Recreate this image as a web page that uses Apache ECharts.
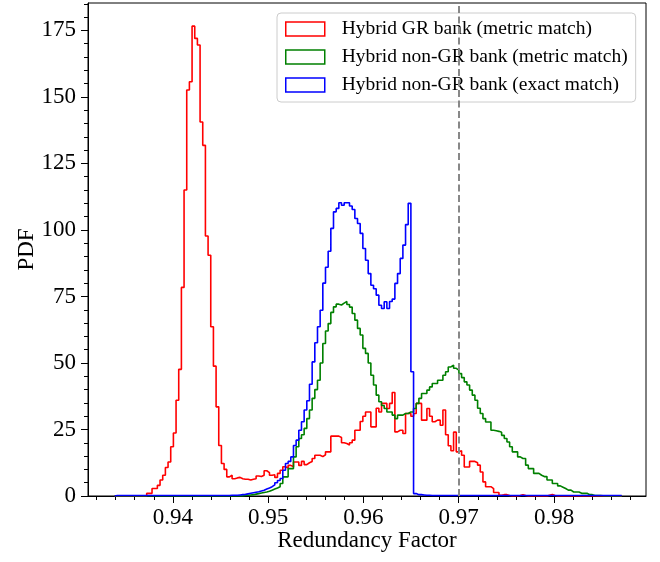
<!DOCTYPE html>
<html><head><meta charset="utf-8">
<script src="https://cdn.jsdelivr.net/npm/echarts@6/dist/echarts.min.js"></script>
<style>html,body{margin:0;padding:0;background:#fff}#c{width:660px;height:562px}</style>
</head><body><div id="c"></div>
<script>
// ---- data ----
const binStart = 0.9339;
const binWidth = 0.00028;
const seriesNames = ['Hybrid GR bank (metric match)', 'Hybrid non-GR bank (metric match)', 'Hybrid non-GR bank (exact match)'];
const redVals = [
0,0,0,0,0,0,0,0,0,0,
0,0,1,1,2.8,2.8,4,6,7.8,10.7,
12.8,18.5,23.7,36,47.6,78.4,115,152.6,155.7,176.6,
172,169.5,140.6,131.8,97.7,90.5,63.6,48.8,33.5,19,
12.2,10,7.2,7.8,6.5,6.8,7,6.5,6.3,6.3,
6,6.3,6.5,7.5,7.3,7.8,9.5,8.8,7.8,8,
7,8.5,9.7,11,10.5,11.5,11,12.8,12.8,11.5,
13,11.8,12.5,13,14.1,15.3,15.3,14.8,15.5,16.6,
16.6,22.5,22.5,22.5,22,20,19.7,19.2,20,21,
24.7,24.7,28,30,31.6,31.6,26,26,33,31.6,
34.8,34.8,32.9,34.8,38.9,24.1,24.7,24.7,23.5,31,
31,30,31,34.8,34.8,28.5,28.5,32.9,30,27.9,
28.5,28.5,26.6,32.3,23,18.9,17,24,16.6,17,
15.3,10.9,10.9,13,13,12.5,11.6,9,5.3,3.5,
3.5,2.8,1.3,1.3,0.3,0.5,0.5,0.2,0,0,
0,0.2,0.5,0.2,0,0,0,0,0,0,
0,0,0.3,0.6,0.2,0,0,0,0,0,
0,0,0,0,0,0,0,0,0,0,
0,0,0,0,0,0,0,0,0,0
];
const greenVals = [
0,0,0,0,0,0,0,0,0,0,
0,0,0,0,0,0,0,0,0,0,
0,0,0,0,0,0,0,0,0,0,
0,0,0,0,0,0,0,0,0,0,
0,0,0,0,0,0,0,0,0.2,0.3,
0.4,0.5,0.7,0.9,1.1,1.3,1.5,1.8,2.2,2.6,
3,3.5,4.7,7.2,7.2,10.3,10.3,14.7,18.5,21.6,
23,25.4,29.1,32.3,36.7,40,43.5,50,57.3,62,
64.8,69,71.1,72.1,71.8,72.5,73.1,72,71,68.6,
66.1,63,60.5,55.5,53.6,50,45.4,41.7,37.9,35.4,
34,32.9,31.6,31.6,30.4,29.1,30.4,30.4,31,31,
31.6,31.6,32.9,34.8,36.7,38.5,38.5,39.8,41,42.3,
42.3,43.5,43.5,45.4,46.7,48.5,49.2,48,47.3,46,
44.5,42.9,41.7,39.8,37.9,36,33,31,29.1,27.8,
27.8,24.7,24.5,24.3,24,22.8,21.6,20.3,18.5,16.6,
16.6,14.7,14.1,14.1,11.6,10.3,10.3,8.5,8.5,7.8,
7.3,7.3,6,6,4.7,4.7,3.8,3.3,2.8,2.2,
2.2,1.5,1.5,1.5,1,1,1,0.5,0.5,0.2,
0.2,0.2,0.1,0,0,0,0,0,0,0
];
const blueVals = [
0.2,0.2,0.2,0.2,0.2,0.2,0.2,0.2,0.2,0.2,
0.2,0.2,0.2,0.2,0.2,0.2,0.2,0.2,0.2,0.2,
0.2,0.2,0.2,0.2,0.2,0.2,0.2,0.2,0.2,0.2,
0.2,0.2,0.2,0.2,0.2,0.2,0.2,0.2,0.2,0.2,
0.2,0.2,0.2,0.3,0.3,0.3,0.4,0.5,0.6,0.8,
1,1.2,1.4,1.6,1.9,2.2,2.6,3,3.5,4.2,
5,5.8,6.6,9.7,12.2,13,14.7,19,21,24.7,
27.9,32.3,35.8,42,50.4,57.6,63.6,69.8,80,86,
92,100.6,106.8,108.1,110.2,109.3,110.2,110.2,109,107.7,
104.3,102.4,98.7,93,88.6,83.6,79.2,77.9,75.5,71.7,
70.5,73,70.5,73.1,74,79.9,83.6,89.3,94.3,102,
110,46.7,0.9,0.5,0.5,0.4,0.3,0.3,0.2,0.2,
0.2,0.2,0.2,0.2,0.2,0.2,0.2,0.2,0.2,0.2,
0.2,0.2,0.2,0.2,0.2,0.2,0.2,0.2,0.2,0.2,
0.2,0.2,0.2,0.2,0.2,0.2,0.2,0.2,0.2,0.2,
0.2,0.2,0.2,0.2,0.2,0.2,0.2,0.2,0.2,0.2,
0.2,0.2,0.2,0.2,0.2,0.2,0.2,0.2,0.2,0.2,
0.2,0.2,0.2,0.2,0.2,0.2,0.2,0.2,0.2,0.2,
0.2,0.2,0.2,0.2,0.2,0.2,0.2,0.2,0.2,0.2
];
const xMajorTicks = [0.94, 0.95, 0.96, 0.97, 0.98];
const xMinorTicks = [0.932,0.934,0.936,0.938,0.942,0.944,0.946,0.948,0.952,0.954,0.956,0.958,0.962,0.964,0.966,0.968,0.972,0.974,0.976,0.978,0.982,0.984,0.986,0.988];
const yMajorTicks = [0, 25, 50, 75, 100, 125, 150, 175];
const yMinorTicks = [5,10,15,20,30,35,40,45,55,60,65,70,80,85,90,95,105,110,115,120,130,135,140,145,155,160,165,170,180,185];
const refLineX = 0.97;
const xRange = [0.9311, 0.98965];
const yRange = [0, 185.3];

// ---- chart ----
function stepPoints(vals) {
  const pts = [[binStart, 0]];
  for (let i = 0; i < vals.length; i++) pts.push([binStart + i * binWidth, vals[i]]);
  pts.push([binStart + vals.length * binWidth, 0]);
  return pts;
}
const FONT = 'Liberation Serif';
const colors = ['#ff0000', '#008000', '#0000ff'];
const chart = echarts.init(document.getElementById('c'), null, {renderer: 'canvas'});
const axisCommon = {
  type: 'value', splitLine: {show: false}
};
chart.setOption({
  animation: false,
  backgroundColor: '#fff',
  grid: {left: 88, right: 14, top: 3, bottom: 66, show: true, borderColor: '#000', borderWidth: 1, backgroundColor: 'transparent', outerBoundsMode: 'none'},
  xAxis: [
    Object.assign({}, axisCommon, {
      min: xRange[0], max: xRange[1], position: 'bottom',
      name: 'Redundancy Factor', nameLocation: 'middle', nameGap: 33, nameMoveOverlap: false,
      nameTextStyle: {fontFamily: FONT, fontSize: 23, color: '#000'},
      axisLine: {show: true, lineStyle: {color: '#000', width: 1}},
      axisTick: {show: true, inside: false, length: 7, customValues: xMajorTicks, lineStyle: {color: '#000', width: 1}},
      axisLabel: {show: true, customValues: xMajorTicks, margin: 10, fontFamily: FONT, fontSize: 23, color: '#000',
        formatter: v => Number(v).toFixed(2)}
    }),
    Object.assign({}, axisCommon, {
      min: xRange[0], max: xRange[1], position: 'bottom',
      axisLine: {show: false},
      axisTick: {show: true, inside: false, length: 4, customValues: xMinorTicks, lineStyle: {color: '#000', width: 1}},
      axisLabel: {show: false}
    })
  ],
  yAxis: [
    Object.assign({}, axisCommon, {
      min: yRange[0], max: yRange[1], position: 'left',
      name: 'PDF', nameLocation: 'middle', nameGap: 50, nameRotate: 90, nameMoveOverlap: false,
      nameTextStyle: {fontFamily: FONT, fontSize: 23, color: '#000'},
      axisLine: {show: true, lineStyle: {color: '#000', width: 1}},
      axisTick: {show: true, inside: false, length: 7, customValues: yMajorTicks, lineStyle: {color: '#000', width: 1}},
      axisLabel: {show: true, customValues: yMajorTicks, margin: 12, fontFamily: FONT, fontSize: 23, color: '#000'}
    }),
    Object.assign({}, axisCommon, {
      min: yRange[0], max: yRange[1], position: 'left',
      axisLine: {show: false},
      axisTick: {show: true, inside: false, length: 4, customValues: yMinorTicks, lineStyle: {color: '#000', width: 1}},
      axisLabel: {show: false}
    })
  ],
  legend: {
    left: 277, top: 13, orient: 'vertical', align: 'left',
    itemWidth: 39, itemHeight: 14, itemGap: 8,
    padding: [6, 8, 7, 8],
    backgroundColor: 'rgba(255,255,255,0.8)', borderColor: '#cccccc', borderWidth: 1, borderRadius: 4,
    textStyle: {fontFamily: FONT, fontSize: 19.5, color: '#000', padding: [0, 0, 0, 12]},
    selectedMode: false,
    data: seriesNames.map((n, i) => ({name: n, icon: 'rect', itemStyle: {color: 'rgba(255,255,255,0)', borderColor: colors[i], borderWidth: 1.5}}))
  },
  series: [redVals, greenVals, blueVals].map((vals, i) => ({
    name: seriesNames[i], type: 'line', step: 'end', data: stepPoints(vals),
    xAxisIndex: 0, yAxisIndex: 0,
    symbol: 'none', showSymbol: false, silent: true, clip: true,
    color: colors[i],
    lineStyle: {color: colors[i], width: 1.6},
    markLine: i === 0 ? {
      silent: true, symbol: ['none', 'none'], label: {show: false},
      lineStyle: {color: '#888888', width: 2, type: [7, 3.5]},
      data: [{xAxis: refLineX}]
    } : undefined
  }))
});
</script>
</body></html>
